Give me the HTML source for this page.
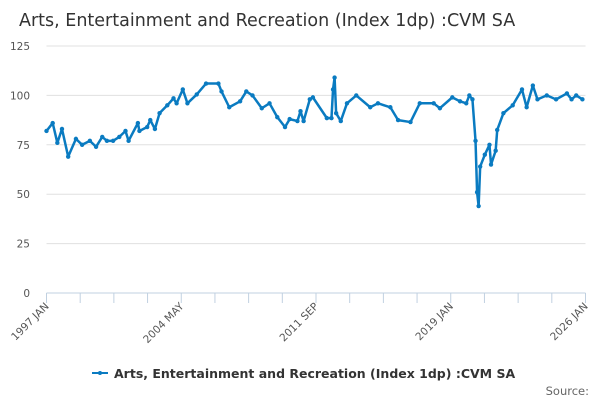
<!DOCTYPE html>
<html><head><meta charset="utf-8"><style>
body{margin:0;background:#fff;}
svg{display:block;font-family:"DejaVu Sans","Liberation Sans",sans-serif;}
</style></head><body>
<svg id="chart" width="600" height="400">
<text x="19" y="26" font-size="17.5" fill="#333">Arts, Entertainment and Recreation (Index 1dp) :CVM SA</text>
<g id="grid"></g><g id="xaxis"></g><g id="series"></g>
<g>
<line x1="92" y1="373" x2="108" y2="373" stroke="#0a7bc1" stroke-width="2"/>
<circle cx="100" cy="373" r="2" fill="#0a7bc1"/>
<text x="114" y="378" font-size="12.5" font-weight="bold" fill="#333">Arts, Entertainment and Recreation (Index 1dp) :CVM SA</text>
</g>
<text x="589" y="395" font-size="11.5" fill="#666" text-anchor="end">Source:</text>
</svg>
<script>
const months=[0,4,7,10,14,19,23,28,32,36,39,43,47,51,53,59,60,65,67,70,73,78,82,84,88,91,97,103,111,113,118,125,129,133,139,144,149,154,157,162,164,166,170,172,181,184,185,186,187,190,194,200,209,214,222,227,235,241,250,254,262,267,271,273,275,277,278,279,280,283,286,287,290,291,295,301,307,310,314,317,323,329,336,339,342,346];
const values=[82,86,76,83,69,78,75,77,74,79,77,77,79,82,77,86,82,84,87.5,83,91,95,98.5,96,103,96,100.5,106,106,102,94,97,102,100,93.5,96,89,84,88,87,92,87,98,99,88.5,88.5,103,109,91,87,96,100,94,96,94,87.5,86.5,96,96,93.5,99,97,96,100,98,77,51,44,64,70,75,65,72,82.5,91,95,103,94,105,98,100,98,101,98,100,98];
const yTicks=[0,25,50,75,100,125];
const xTickLabels=["1997 JAN","2004 MAY","2011 SEP","2019 JAN","2026 JAN"];
const x0=46.5,x1=585.5,totalMonths=348,yBase=293,yTop=46,yMax=125;
const X=m=>x0+m*(x1-x0)/totalMonths;
const Y=v=>yBase-v*(yBase-yTop)/yMax;
const NS="http://www.w3.org/2000/svg";
function mk(t,a,p){const e=document.createElementNS(NS,t);for(const k in a)e.setAttribute(k,a[k]);p.appendChild(e);return e;}
const grid=document.getElementById('grid');
yTicks.forEach(v=>{
 if(v>0){const l=mk('line',{x1:x0,x2:x1,y1:Y(v),y2:Y(v),stroke:'#e0e0e0','stroke-width':1},grid);
 
 }
 const t=mk('text',{x:30,y:Y(v)+4,'font-size':10.5,fill:'#555','text-anchor':'end'},grid);
 t.textContent=v;
 
 
});
const xa=document.getElementById('xaxis');
const al=mk('line',{x1:x0,x2:x1,y1:yBase,y2:yBase,stroke:'#c0d0e0'},xa);


for(let i=0;i<=16;i++){const x=x0+i*(x1-x0)/16;
 const tk=mk('line',{x1:x,x2:x,y1:yBase,y2:yBase+10,stroke:'#c0d0e0'},xa);
 
 }
xTickLabels.forEach((s,i)=>{const x=x0+i*4*(x1-x0)/16;
 const t=mk('text',{x:x+3,y:yBase+14,'font-size':10.5,fill:'#555','text-anchor':'end',transform:`rotate(-45 ${x+3} ${yBase+14})`},xa);
 t.textContent=s;
 
 });
const sg=document.getElementById('series');
const pl=mk('polyline',{points:months.map((m,i)=>X(m)+','+Y(values[i])).join(' '),fill:'none',stroke:'#0a7bc1','stroke-width':2.5,'stroke-linejoin':'round'},sg);


months.forEach((m,i)=>{const c=mk('circle',{cx:X(m),cy:Y(values[i]),r:2.2,fill:'#0a7bc1'},sg);
 
 });
</script>
</body></html>
